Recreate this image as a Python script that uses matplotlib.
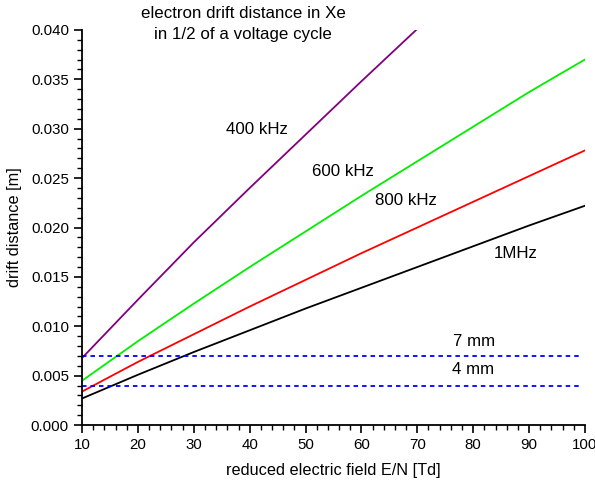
import matplotlib
matplotlib.use("Agg")
import matplotlib.pyplot as plt
from matplotlib.ticker import MultipleLocator, FormatStrFormatter

plt.rcParams['font.family'] = ['Liberation Sans', 'DejaVu Sans']

# reduced electric field E/N [Td]
field = [10, 20, 30, 40, 50, 60, 70, 80, 90, 100]
field_400 = [10, 20, 30, 40, 50, 60, 70]
# drift distance [m]
d_1mhz = [0.0027, 0.0051, 0.0074, 0.0096, 0.0118, 0.0139, 0.0160, 0.0181, 0.0202, 0.0222]
d_800k = [0.0034, 0.0064, 0.0092, 0.0120, 0.0147, 0.0174, 0.0200, 0.0226, 0.0252, 0.0278]
d_600k = [0.0045, 0.0085, 0.0123, 0.0160, 0.0196, 0.0232, 0.0267, 0.0302, 0.0337, 0.0370]
d_400k = [0.0068, 0.0127, 0.0185, 0.0240, 0.0294, 0.0348, 0.0401]

limits_mm = [0.007, 0.004]
limit_labels = ["7 mm", "4 mm"]
series_labels = ["400 kHz", "600 kHz", "800 kHz", "1MHz"]

fig = plt.figure(figsize=(5.95, 4.82), dpi=100)
ax = fig.add_axes([0.138, 0.118, 0.845, 0.820])

ax.plot(field_400, d_400k, color='#800080', lw=1.3)
ax.plot(field, d_600k, color='#00ee00', lw=1.3)
ax.plot(field, d_800k, color='#ff0000', lw=1.3)
ax.plot(field, d_1mhz, color='#000000', lw=1.3)
for v in limits_mm:
    ax.plot([field[0], 99.5], [v, v], color='#0000ff', lw=1.3, ls=(0, (2.5, 2.2)))

ax.set_xlim(10, 100)
ax.set_ylim(0, 0.040)
ax.xaxis.set_major_locator(MultipleLocator(10))
ax.xaxis.set_minor_locator(MultipleLocator(2))
ax.yaxis.set_major_locator(MultipleLocator(0.005))
ax.yaxis.set_minor_locator(MultipleLocator(0.001))
ax.yaxis.set_major_formatter(FormatStrFormatter('%.3f'))

for s in ['top', 'right']:
    ax.spines[s].set_visible(False)
for s in ['left', 'bottom']:
    ax.spines[s].set_linewidth(1.3)
ax.tick_params(which='major', direction='out', length=6, width=1.2, labelsize=10.8)
ax.tick_params(which='minor', direction='out', length=3.5, width=1.0)

ax.set_xlabel("reduced electric field E/N [Td]", fontsize=11.7, labelpad=8)
ax.set_ylabel("drift distance [m]", fontsize=11.7, labelpad=6)

fig.text(243/595, 1 - 14/482, "electron drift distance in Xe", ha='center', va='center', fontsize=12.2)
fig.text(243/595, 1 - 34/482, "in 1/2 of a voltage cycle", ha='center', va='center', fontsize=12.2)

label_pos = [(41.3, 0.0299), (56.7, 0.0257), (68.0, 0.0227), (87.7, 0.0174)]
for lab, (x, y) in zip(series_labels, label_pos):
    ax.text(x, y, lab, ha='center', va='center', fontsize=12.2)
for lab, (x, y) in zip(limit_labels, [(80.1, 0.00851), (80.0, 0.00567)]):
    ax.text(x, y, lab, ha='center', va='center', fontsize=12.2)

fig.savefig("out.png", dpi=100)
